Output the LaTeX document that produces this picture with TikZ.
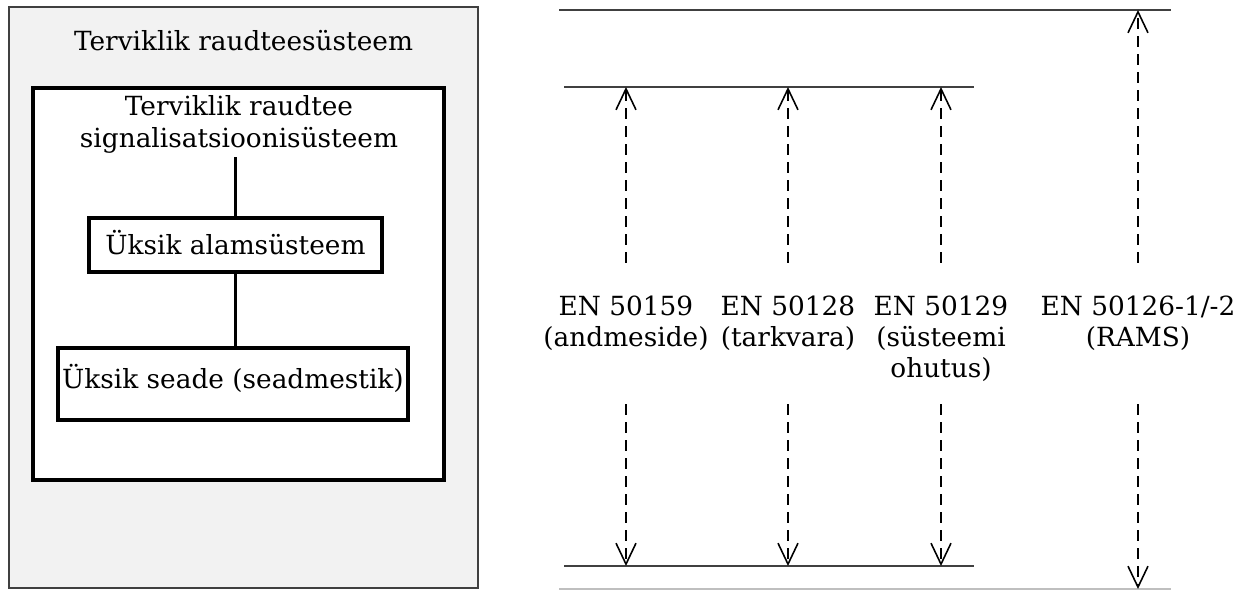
\documentclass[tikz,border=0pt]{standalone}
\usepackage{fontspec}
\setmainfont{DejaVu Serif}
\usetikzlibrary{arrows.meta}

\newcommand{\stacktext}[1]{\begin{tabular}[t]{@{}c@{}}#1\end{tabular}}

\begin{document}
\begin{tikzpicture}[x=0.02cm,y=-0.02cm,
	frame/.style={rectangle, draw=black!75, fill=gray!10, line width=1pt, inner sep=0pt},
	square/.style={rectangle, draw=black, line width=2pt, inner sep=0pt, text height=10.5pt, font=\fontsize{15}{18}\selectfont},
	heading/.style={anchor=base, inner sep=0pt, font=\fontsize{15}{18}\selectfont},
	norm/.style={anchor=base, inner sep=0pt, text height=1.06cm, text depth=1.76cm, font=\fontsize{15}{17.5}\selectfont},
	level/.style={draw=black!75, line width=1.1pt},
	span/.style={draw=black, line width=0.9pt, dash pattern=on 0.22cm off 0.14cm, -{Straight Barb[length=0.42cm, width=0.4cm]}}]
	\useasboundingbox (0,0) rectangle (1249,590);
	
	%Boxes
	\node[frame, minimum width=9.38cm, minimum height=11.62cm]	(whole)	at (243.5,297.5) {};
	\node[square, fill=white, minimum width=8.22cm, minimum height=7.84cm]	(signal)	at (238.5,284) {};
	\node[square, text depth=0pt, minimum width=5.86cm, minimum height=1.08cm]	(sub)	at (235.5,245) {Üksik alamsüsteem};
	\node[square, text depth=5.4pt, minimum width=7cm, minimum height=1.44cm]	(device)	at (233,384) {Üksik seade (seadmestik)};
	\node[heading]	(wholetitle)	at (243.5,51)	{Terviklik raudteesüsteem};
	\node[heading]	(signaltitle)	at (239,116)	{\stacktext{Terviklik raudtee\\signalisatsioonisüsteem}};
	
	%Lines
	\draw[black, line width=1.8pt] (signaltitle.south -| sub.north) -- (sub.north);
	\draw[black, line width=1.8pt] (sub.south) -- (sub.south |- device.north);
	
	%Levels
	\coordinate (top0) at (559,10);
	\coordinate (top1) at (1171,10);
	\coordinate (up0) at (564,87);
	\coordinate (up1) at (974,87);
	\coordinate (low0) at (564,566);
	\coordinate (low1) at (974,566);
	\coordinate (bot0) at (559,589);
	\coordinate (bot1) at (1171,589);
	\draw[level] (top0) -- (top1);
	\draw[level] (up0) -- (up1);
	\draw[level] (low0) -- (low1);
	\draw[draw=black!25, line width=0.6pt] (bot0) -- (bot1);
	
	%Standards
	\node[norm]	(en59)	at (626,316)	{\stacktext{EN 50159\\(andmeside)}};
	\node[norm]	(en28)	at (788,316)	{\stacktext{EN 50128\\(tarkvara)}};
	\node[norm]	(en29)	at (941,316)	{\stacktext{EN 50129\\(süsteemi\\ohutus)}};
	\node[norm]	(en26)	at (1138,316)	{\stacktext{EN 50126-1/-2\\(RAMS)}};
	
	%Arrows
	\draw[span] (en59.north) -- (en59.north |- up0);
	\draw[span] (en59.south) -- (en59.south |- low0);
	\draw[span] (en28.north) -- (en28.north |- up0);
	\draw[span] (en28.south) -- (en28.south |- low0);
	\draw[span] (en29.north) -- (en29.north |- up0);
	\draw[span] (en29.south) -- (en29.south |- low0);
	\draw[span] (en26.north) -- (en26.north |- top0);
	\draw[span] (en26.south) -- (en26.south |- bot0);
\end{tikzpicture}
\end{document}
